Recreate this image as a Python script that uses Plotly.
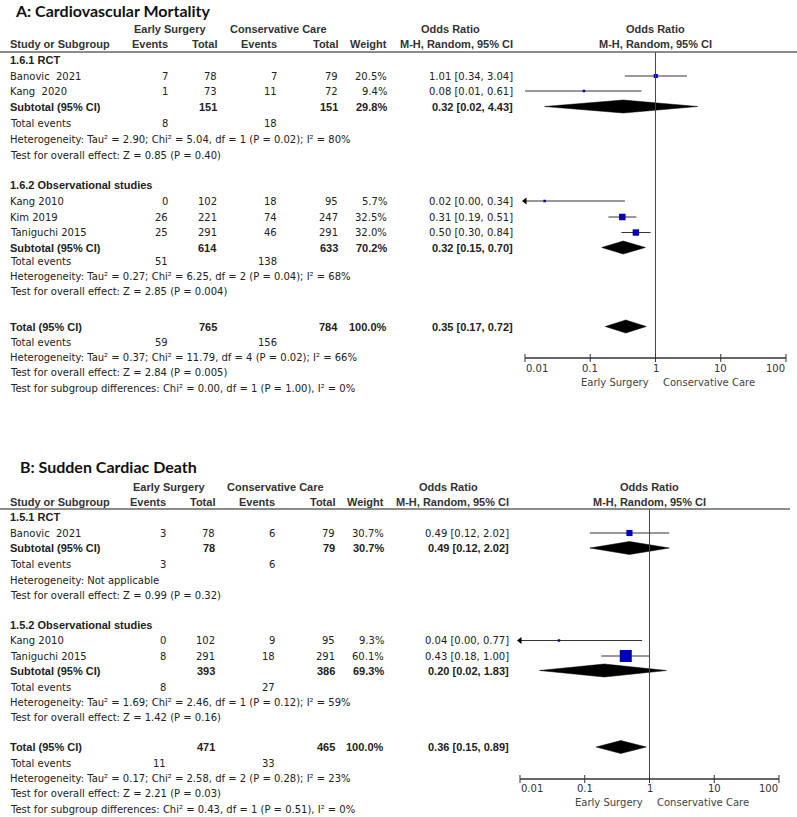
import math
import plotly.graph_objects as go

W, H = 797, 817

# ------------------------- DATA : Panel A -------------------------
A_title = "A: Cardiovascular Mortality"
A_study = ["Banovic  2021", "Kang  2020", "Kang 2010", "Kim 2019", "Taniguchi 2015"]
A_group = [0, 0, 1, 1, 1]
A_es_events = [7, 1, 0, 26, 25]
A_es_total = [78, 73, 102, 221, 291]
A_cc_events = [7, 11, 18, 74, 46]
A_cc_total = [79, 72, 95, 247, 291]
A_weight = [20.5, 9.4, 5.7, 32.5, 32.0]
A_or = [1.01, 0.08, 0.02, 0.31, 0.50]
A_lo = [0.34, 0.01, 0.00, 0.19, 0.30]
A_hi = [3.04, 0.61, 0.34, 0.51, 0.84]

A_sub_name = ["1.6.1 RCT", "1.6.2 Observational studies"]
A_sub_es_total = [151, 614]
A_sub_cc_total = [151, 633]
A_sub_weight = [29.8, 70.2]
A_sub_or = [0.32, 0.32]
A_sub_lo = [0.02, 0.15]
A_sub_hi = [4.43, 0.70]
A_sub_es_events = [8, 51]
A_sub_cc_events = [18, 138]
A_sub_het = ["Heterogeneity: Tau² = 2.90; Chi² = 5.04, df = 1 (P = 0.02); I² = 80%",
             "Heterogeneity: Tau² = 0.27; Chi² = 6.25, df = 2 (P = 0.04); I² = 68%"]
A_sub_test = ["Test for overall effect: Z = 0.85 (P = 0.40)",
              "Test for overall effect: Z = 2.85 (P = 0.004)"]

A_tot_es_total = 765
A_tot_cc_total = 784
A_tot_weight = 100.0
A_tot_or = 0.35
A_tot_lo = 0.17
A_tot_hi = 0.72
A_tot_es_events = 59
A_tot_cc_events = 156
A_tot_het = "Heterogeneity: Tau² = 0.37; Chi² = 11.79, df = 4 (P = 0.02); I² = 66%"
A_tot_test = "Test for overall effect: Z = 2.84 (P = 0.005)"
A_tot_diff = "Test for subgroup differences: Chi² = 0.00, df = 1 (P = 1.00), I² = 0%"

# ------------------------- DATA : Panel B -------------------------
B_title = "B: Sudden Cardiac Death"
B_study = ["Banovic  2021", "Kang 2010", "Taniguchi 2015"]
B_group = [0, 1, 1]
B_es_events = [3, 0, 8]
B_es_total = [78, 102, 291]
B_cc_events = [6, 9, 18]
B_cc_total = [79, 95, 291]
B_weight = [30.7, 9.3, 60.1]
B_or = [0.49, 0.04, 0.43]
B_lo = [0.12, 0.00, 0.18]
B_hi = [2.02, 0.77, 1.00]

B_sub_name = ["1.5.1 RCT", "1.5.2 Observational studies"]
B_sub_es_total = [78, 393]
B_sub_cc_total = [79, 386]
B_sub_weight = [30.7, 69.3]
B_sub_or = [0.49, 0.20]
B_sub_lo = [0.12, 0.02]
B_sub_hi = [2.02, 1.83]
B_sub_es_events = [3, 8]
B_sub_cc_events = [6, 27]
B_sub_het = ["Heterogeneity: Not applicable",
             "Heterogeneity: Tau² = 1.69; Chi² = 2.46, df = 1 (P = 0.12); I² = 59%"]
B_sub_test = ["Test for overall effect: Z = 0.99 (P = 0.32)",
              "Test for overall effect: Z = 1.42 (P = 0.16)"]

B_tot_es_total = 471
B_tot_cc_total = 465
B_tot_weight = 100.0
B_tot_or = 0.36
B_tot_lo = 0.15
B_tot_hi = 0.89
B_tot_es_events = 11
B_tot_cc_events = 33
B_tot_het = "Heterogeneity: Tau² = 0.17; Chi² = 2.58, df = 2 (P = 0.28); I² = 23%"
B_tot_test = "Test for overall effect: Z = 2.21 (P = 0.03)"
B_tot_diff = "Test for subgroup differences: Chi² = 0.43, df = 1 (P = 0.51), I² = 0%"

# Axis ticks
tick_vals = [0.01, 0.1, 1, 10, 100]
tick_text = ["0.01", "0.1", "1", "10", "100"]
left_label = "Early Surgery"
right_label = "Conservative Care"

# ------------------------- LAYOUT (pixels) -------------------------
GEOM_A = dict(title_x=14, title_y=10, hdr1_y=29, hdr2_y=44, line_y=52, line_r=797,
              study_x=9, es_ev=169, es_tot=218, cc_ev=278, cc_tot=339, wt=388,
              or_x=514, or_hdr_c=451, es_grp_c=170, cc_grp_c=278,
              px_min=525, px_max=786, axis_y=358, tick_lab_y=368, axis_title_y=382,
              rows=[60, 76, 91, 106.5, 123.5, 139.5, 155, 185, 201, 217, 232.5, 247.5,
                    261, 276, 291, 326.5, 342, 357, 372.5, 388])
GEOM_B = dict(title_x=19, title_y=466, hdr1_y=487, hdr2_y=502, line_y=509, line_r=790,
              study_x=9, es_ev=167, es_tot=216, cc_ev=276, cc_tot=336, wt=385,
              or_x=510, or_hdr_c=448, es_grp_c=168.5, cc_grp_c=275,
              px_min=520, px_max=779, axis_y=779, tick_lab_y=788, axis_title_y=802,
              rows=[517, 533, 548, 564.5, 580.5, 595.5, 625, 640.5, 656, 670.5, 687.5,
                    702.5, 717, 747, 763.5, 778.5, 793.5, 809])

REG_FONT = "DejaVu Sans, Verdana, sans-serif"
REG_SIZE = 10
BOLD_FONT = "Liberation Sans, Arial, sans-serif"
BOLD_SIZE = 11
TITLE_FONT = "Lato, Open Sans, sans-serif"
TXT = "#222222"
HDR = "#333333"
SQ = "#0000BB"
LINE = "#333333"
XMIN, XMAX = 0.01, 100

fig = go.Figure()
anns = []
shapes = []
layout_axes = {}


def txt(x, y, s, anchor="left", bold=False, size=None, color=TXT, font=None, xref="paper"):
    if font is None:
        font = BOLD_FONT if bold else REG_FONT
    if size is None:
        size = BOLD_SIZE if bold else REG_SIZE
    anns.append(dict(x=(x / W if xref == "paper" else x), y=y, xref=xref, yref="y",
                     text=("<b>" + s + "</b>" if bold else s), showarrow=False,
                     xanchor=anchor, yanchor="middle", borderpad=0,
                     font=dict(family=font, size=size, color=color)))


def fmt_or(o, l, h):
    return f"{o:.2f} [{l:.2f}, {h:.2f}]"


def diamond(xa, y, o, l, h, half=6.5):
    fig.add_trace(go.Scatter(x=[l, o, h, o, l], y=[y, y - half, y, y + half, y],
                             xaxis=xa, yaxis="y", mode="lines", fill="toself",
                             fillcolor="black", line=dict(color="black", width=0.5),
                             hoverinfo="skip", showlegend=False))


def panel(idx, G, title, study, group, es_ev, es_tot, cc_ev, cc_tot, weight, orv, lo, hi,
          sname, s_es_tot, s_cc_tot, s_wt, s_or, s_lo, s_hi, s_es_ev, s_cc_ev, s_het, s_test,
          t_es_tot, t_cc_tot, t_wt, t_or, t_lo, t_hi, t_es_ev, t_cc_ev, t_het, t_test, t_diff):
    xa = "x" if idx == 1 else f"x{idx}"
    key = "xaxis" if idx == 1 else f"xaxis{idx}"
    ppd = (G["px_max"] - G["px_min"]) / 4.0
    pad = 0.12
    layout_axes[key] = dict(type="log", range=[-2 - pad, 2 + pad],
                            domain=[(G["px_min"] - pad * ppd) / W, (G["px_max"] + pad * ppd) / W],
                            anchor="y", visible=False, fixedrange=True)
    one_px = G["px_min"] + 2 * ppd

    # titles and headers
    txt(G["title_x"], G["title_y"], title, bold=True, size=16, color="#111111", font=TITLE_FONT)
    txt(G["es_grp_c"], G["hdr1_y"], "Early Surgery", "center", True, color=HDR)
    txt(G["cc_grp_c"], G["hdr1_y"], "Conservative Care", "center", True, color=HDR)
    txt(G["or_hdr_c"], G["hdr1_y"], "Odds Ratio", "center", True, color=HDR)
    txt(one_px, G["hdr1_y"], "Odds Ratio", "center", True, color=HDR)
    txt(G["study_x"], G["hdr2_y"], "Study or Subgroup", "left", True, color=HDR)
    txt(G["es_ev"], G["hdr2_y"], "Events", "right", True, color=HDR)
    txt(G["es_tot"], G["hdr2_y"], "Total", "right", True, color=HDR)
    txt(G["cc_ev"], G["hdr2_y"], "Events", "right", True, color=HDR)
    txt(G["cc_tot"], G["hdr2_y"], "Total", "right", True, color=HDR)
    txt(G["wt"], G["hdr2_y"], "Weight", "right", True, color=HDR)
    txt(G["or_x"], G["hdr2_y"], "M-H, Random, 95% CI", "right", True, color=HDR)
    txt(one_px, G["hdr2_y"], "M-H, Random, 95% CI", "center", True, color=HDR)
    shapes.append(dict(type="line", xref="paper", yref="y", x0=0, x1=G["line_r"] / W,
                       y0=G["line_y"], y1=G["line_y"], line=dict(color="#666666", width=1.5)))

    rows = iter(G["rows"])
    for g in range(len(sname)):
        y = next(rows)
        txt(G["study_x"], y, sname[g], bold=True)
        for i in [k for k in range(len(study)) if group[k] == g]:
            y = next(rows)
            txt(G["study_x"], y, study[i])
            txt(G["es_ev"], y, str(es_ev[i]), "right")
            txt(G["es_tot"], y, str(es_tot[i]), "right")
            txt(G["cc_ev"], y, str(cc_ev[i]), "right")
            txt(G["cc_tot"], y, str(cc_tot[i]), "right")
            txt(G["wt"], y, f"{weight[i]:.1f}%", "right")
            txt(G["or_x"], y, fmt_or(orv[i], lo[i], hi[i]), "right")
            l = max(lo[i], XMIN)
            h = min(hi[i], XMAX)
            fig.add_trace(go.Scatter(x=[l, h], y=[y, y], xaxis=xa, yaxis="y", mode="lines",
                                     line=dict(color=LINE, width=1), hoverinfo="skip",
                                     showlegend=False))
            if lo[i] < XMIN:
                fig.add_trace(go.Scatter(x=[XMIN], y=[y], xaxis=xa, yaxis="y", mode="markers",
                                         marker=dict(symbol="triangle-left", size=6, color="black"),
                                         cliponaxis=False, hoverinfo="skip", showlegend=False))
            fig.add_trace(go.Scatter(x=[orv[i]], y=[y], xaxis=xa, yaxis="y", mode="markers",
                                     marker=dict(symbol="square", size=max(2.5, weight[i] * 0.2),
                                                 color=SQ, line=dict(width=0)),
                                     cliponaxis=False, hoverinfo="skip", showlegend=False))
        y = next(rows)
        txt(G["study_x"], y, "Subtotal (95% CI)", bold=True)
        txt(G["es_tot"], y, str(s_es_tot[g]), "right", True)
        txt(G["cc_tot"], y, str(s_cc_tot[g]), "right", True)
        txt(G["wt"], y, f"{s_wt[g]:.1f}%", "right", True)
        txt(G["or_x"], y, fmt_or(s_or[g], s_lo[g], s_hi[g]), "right", True)
        diamond(xa, y, s_or[g], s_lo[g], s_hi[g])
        y = next(rows)
        txt(G["study_x"], y, "Total events")
        txt(G["es_ev"], y, str(s_es_ev[g]), "right")
        txt(G["cc_ev"], y, str(s_cc_ev[g]), "right")
        y = next(rows)
        txt(G["study_x"], y, s_het[g])
        y = next(rows)
        txt(G["study_x"], y, s_test[g])

    y = next(rows)
    txt(G["study_x"], y, "Total (95% CI)", bold=True)
    txt(G["es_tot"], y, str(t_es_tot), "right", True)
    txt(G["cc_tot"], y, str(t_cc_tot), "right", True)
    txt(G["wt"], y, f"{t_wt:.1f}%", "right", True)
    txt(G["or_x"], y, fmt_or(t_or, t_lo, t_hi), "right", True)
    diamond(xa, y, t_or, t_lo, t_hi)
    y = next(rows)
    txt(G["study_x"], y, "Total events")
    txt(G["es_ev"], y, str(t_es_ev), "right")
    txt(G["cc_ev"], y, str(t_cc_ev), "right")
    y = next(rows)
    txt(G["study_x"], y, t_het)
    y = next(rows)
    txt(G["study_x"], y, t_test)
    y = next(rows)
    txt(G["study_x"], y, t_diff)

    # line of no effect
    fig.add_trace(go.Scatter(x=[1, 1], y=[G["line_y"], G["axis_y"]], xaxis=xa, yaxis="y",
                             mode="lines", line=dict(color="#444444", width=1),
                             hoverinfo="skip", showlegend=False))
    # axis line + ticks
    fig.add_trace(go.Scatter(x=[XMIN, XMAX], y=[G["axis_y"], G["axis_y"]], xaxis=xa, yaxis="y",
                             mode="lines", line=dict(color="#333333", width=1.5),
                             hoverinfo="skip", showlegend=False))
    tx, ty = [], []
    for t in tick_vals:
        tx += [t, t, None]
        ty += [G["axis_y"] - 4, G["axis_y"] + 4, None]
    fig.add_trace(go.Scatter(x=tx, y=ty, xaxis=xa, yaxis="y", mode="lines",
                             line=dict(color="#333333", width=1), hoverinfo="skip",
                             showlegend=False))
    for k, (t, s) in enumerate(zip(tick_vals, tick_text)):
        anchor = "left" if k == 0 else ("right" if k == len(tick_vals) - 1 else "center")
        anns.append(dict(x=math.log10(t), y=G["tick_lab_y"], xref=xa, yref="y", text=s,
                         showarrow=False, xanchor=anchor, yanchor="middle", borderpad=0,
                         font=dict(family=REG_FONT, size=REG_SIZE, color="#333333")))
    txt(one_px - 6, G["axis_title_y"], left_label, "right", color="#444444")
    txt(one_px + 6, G["axis_title_y"], right_label, "left", color="#444444")


panel(1, GEOM_A, A_title, A_study, A_group, A_es_events, A_es_total, A_cc_events, A_cc_total,
      A_weight, A_or, A_lo, A_hi, A_sub_name, A_sub_es_total, A_sub_cc_total, A_sub_weight,
      A_sub_or, A_sub_lo, A_sub_hi, A_sub_es_events, A_sub_cc_events, A_sub_het, A_sub_test,
      A_tot_es_total, A_tot_cc_total, A_tot_weight, A_tot_or, A_tot_lo, A_tot_hi,
      A_tot_es_events, A_tot_cc_events, A_tot_het, A_tot_test, A_tot_diff)
panel(2, GEOM_B, B_title, B_study, B_group, B_es_events, B_es_total, B_cc_events, B_cc_total,
      B_weight, B_or, B_lo, B_hi, B_sub_name, B_sub_es_total, B_sub_cc_total, B_sub_weight,
      B_sub_or, B_sub_lo, B_sub_hi, B_sub_es_events, B_sub_cc_events, B_sub_het, B_sub_test,
      B_tot_es_total, B_tot_cc_total, B_tot_weight, B_tot_or, B_tot_lo, B_tot_hi,
      B_tot_es_events, B_tot_cc_events, B_tot_het, B_tot_test, B_tot_diff)

fig.update_layout(
    width=W, height=H, margin=dict(l=0, r=0, t=0, b=0, pad=0),
    paper_bgcolor="white", plot_bgcolor="rgba(0,0,0,0)", showlegend=False,
    yaxis=dict(range=[H, 0], domain=[0, 1], visible=False, fixedrange=True),
    annotations=anns, shapes=shapes,
    **layout_axes,
)

fig.write_html("out.html", config={"displayModeBar": False},
               post_script="document.body.style.margin='0';document.body.style.padding='0';"
                           "document.body.style.overflow='hidden';")
